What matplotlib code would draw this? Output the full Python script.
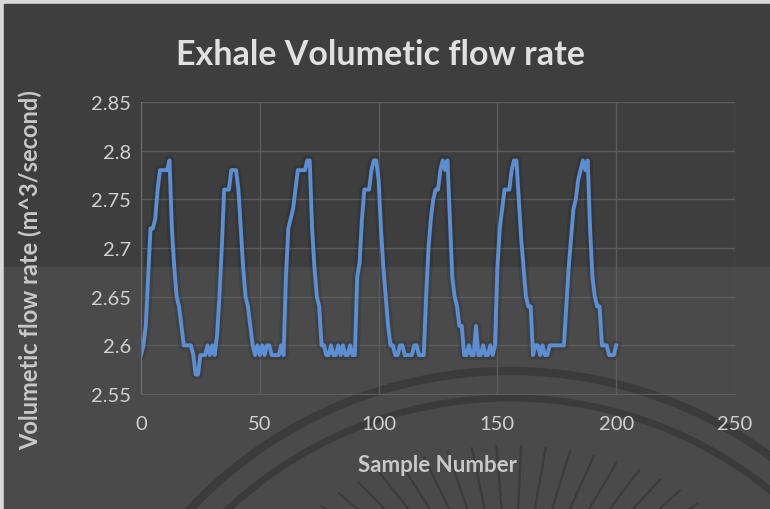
import numpy as np
import matplotlib.pyplot as plt
from matplotlib.patches import Arc, Rectangle

# Dados (amostra 0..200)
flow_rate = [
    2.59, 2.60, 2.62, 2.67, 2.72, 2.72, 2.73, 2.76, 2.78, 2.78,
    2.78, 2.78, 2.79, 2.72, 2.68, 2.65, 2.64, 2.62, 2.60, 2.60,
    2.60, 2.60, 2.59, 2.57, 2.57, 2.59, 2.59, 2.59, 2.60, 2.59,
    2.60, 2.59, 2.61, 2.65, 2.70, 2.76, 2.76, 2.76, 2.78, 2.78,
    2.78, 2.76, 2.72, 2.68, 2.65, 2.64, 2.62, 2.60, 2.59, 2.60,
    2.59, 2.60, 2.59, 2.60, 2.60, 2.59, 2.59, 2.59, 2.59, 2.60,
    2.59, 2.67, 2.72, 2.73, 2.74, 2.76, 2.78, 2.78, 2.78, 2.78,
    2.79, 2.79, 2.72, 2.68, 2.65, 2.64, 2.60, 2.60, 2.59, 2.59,
    2.60, 2.59, 2.59, 2.60, 2.59, 2.60, 2.59, 2.59, 2.60, 2.59,
    2.59, 2.67, 2.685, 2.73, 2.76, 2.76, 2.76, 2.78, 2.79, 2.79,
    2.77, 2.72, 2.68, 2.65, 2.62, 2.60, 2.60, 2.59, 2.59, 2.60,
    2.60, 2.59, 2.59, 2.59, 2.59, 2.60, 2.60, 2.59, 2.59, 2.59,
    2.65, 2.70, 2.73, 2.75, 2.76, 2.76, 2.78, 2.79, 2.78, 2.79,
    2.73, 2.67, 2.65, 2.64, 2.62, 2.62, 2.59, 2.59, 2.60, 2.59,
    2.59, 2.62, 2.59, 2.59, 2.60, 2.59, 2.59, 2.60, 2.59, 2.60,
    2.68, 2.72, 2.74, 2.76, 2.76, 2.76, 2.78, 2.79, 2.79, 2.75,
    2.71, 2.68, 2.65, 2.64, 2.64, 2.59, 2.60, 2.60, 2.59, 2.60,
    2.59, 2.59, 2.60, 2.60, 2.60, 2.60, 2.60, 2.60, 2.60, 2.64,
    2.68, 2.71, 2.74, 2.75, 2.77, 2.78, 2.79, 2.78, 2.79, 2.72,
    2.67, 2.65, 2.64, 2.64, 2.60, 2.60, 2.60, 2.59, 2.59, 2.59,
    2.60,
]
sample = list(range(len(flow_rate)))

x_ticks = [0, 50, 100, 150, 200, 250]
y_ticks = [2.55, 2.6, 2.65, 2.7, 2.75, 2.8, 2.85]
y_tick_labels = ['2.55', '2.6', '2.65', '2.7', '2.75', '2.8', '2.85']

plt.rcParams['font.family'] = ['Lato', 'DejaVu Sans']

fig = plt.figure(figsize=(7.7, 5.1), dpi=100)

# Fundo (eixo em pixels) com a marca d'água
bg = fig.add_axes([0, 0, 1, 1], zorder=0)
bg.set_xlim(0, 770)
bg.set_ylim(510, 0)
bg.axis('off')
bg.add_patch(Rectangle((0, 0), 770, 510, color='#d9d9d9'))
bg.add_patch(Rectangle((4, 5), 766, 263, color='#3e3e3e'))
bg.add_patch(Rectangle((4, 268), 766, 242, color='#4a4a4a'))
for r, lw in [(440, 6), (413, 5)]:
    bg.add_patch(Arc((510, 812), 2 * r, 2 * r, theta1=180, theta2=360,
                     color='#3b3b3b', lw=lw))
# raios da marca d'água (partem de uma elipse em direção ao centro)
for ang in np.arange(34, 147, 5.4):
    a = np.radians(ang)
    x0, y0 = 512 + 262 * np.cos(a), 640 - 193 * np.sin(a)
    bg.plot([x0, 512 + 0.3 * (x0 - 512)], [y0, 640 + 0.3 * (y0 - 640)],
            color='#3b3b3b', lw=1.6)

# Gráfico principal
ax = fig.add_axes([141 / 770, 1 - 395 / 510, 594 / 770, 292 / 510], zorder=1)
ax.set_facecolor('none')
ax.plot(sample, flow_rate, color='black', alpha=0.12, lw=7, solid_joinstyle='round')
ax.plot(sample, flow_rate, color='#5b8ed3', lw=2.8, solid_joinstyle='round')

ax.set_xlim(0, 250)
ax.set_ylim(2.55, 2.85)
ax.set_xticks(x_ticks)
ax.set_yticks(y_ticks)
ax.set_yticklabels(y_tick_labels)
ax.grid(True, color='#5c5c5c', lw=1)
ax.set_axisbelow(True)
ax.tick_params(length=0, labelsize=14.5, labelcolor='#d0d0d0')
ax.tick_params(axis='x', pad=15)
ax.tick_params(axis='y', pad=7)
for s in ['top', 'right']:
    ax.spines[s].set_visible(False)
ax.spines['left'].set_color('#707070')
ax.spines['bottom'].set_color('#5c5c5c')

fig.text(381 / 770, 1 - 55 / 510, 'Exhale Volumetic flow rate', ha='center', va='center',
         fontsize=24.5, fontweight='bold', color='#e0e0e0')
fig.text(437 / 770, 1 - 466 / 510, 'Sample Number', ha='center', va='center',
         fontsize=16, fontweight='bold', color='#c8c8c8')
fig.text(30 / 770, 1 - 270 / 510, 'Volumetic flow rate (m^3/second)', ha='center', va='center',
         rotation=90, fontsize=17, fontweight='bold', color='#c8c8c8')

fig.savefig('out.png', dpi=100)
